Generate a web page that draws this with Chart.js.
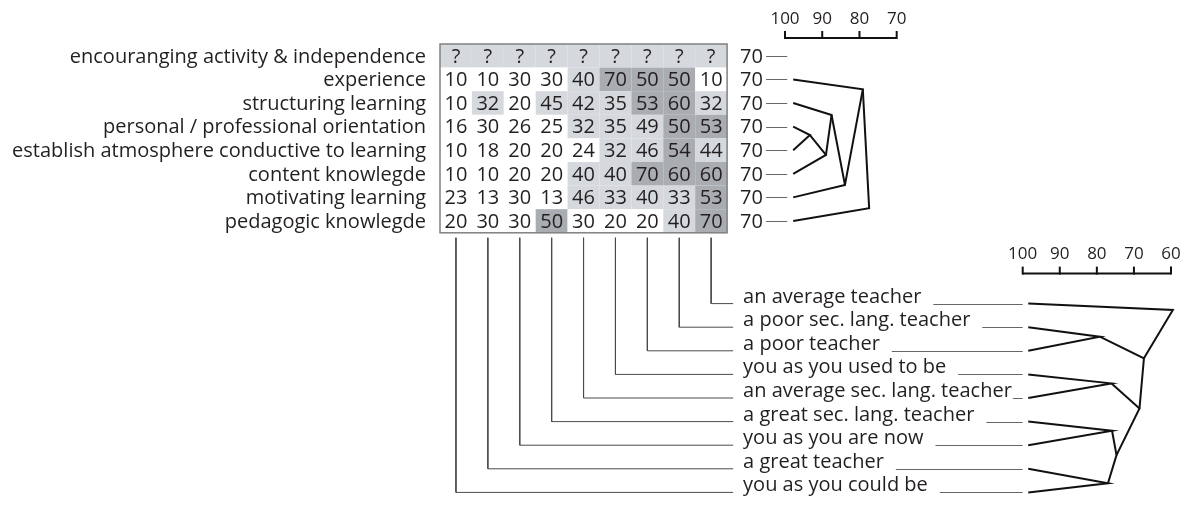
<!DOCTYPE html>
<html><head><meta charset="utf-8">
<script src="https://cdn.jsdelivr.net/npm/chart.js@4/dist/chart.umd.min.js"></script>
<style>html,body{margin:0;padding:0;background:#fff;}canvas{display:block;}</style>
</head><body>
<canvas id="c" width="1193" height="508"></canvas>
<script>
// ---------- data ----------
const constructs = ['encouranging activity & independence','experience','structuring learning','personal / professional orientation','establish atmosphere conductive to learning','content knowlegde','motivating learning','pedagogic knowlegde'];
// elements by grid column (left to right)
const elements = ['you as you could be','a great teacher','you as you are now','a great sec. lang. teacher','an average sec. lang. teacher','you as you used to be','a poor teacher','a poor sec. lang. teacher','an average teacher'];
const ratings = [
  ['?','?','?','?','?','?','?','?','?'],
  [10,10,30,30,40,70,50,50,10],
  [10,32,20,45,42,35,53,60,32],
  [16,30,26,25,32,35,49,50,53],
  [10,18,20,20,24,32,46,54,44],
  [10,10,20,20,40,40,70,60,60],
  [23,13,30,13,46,33,40,33,53],
  [20,30,30,50,30,20,20,40,70]
];
const rowScores = [70,70,70,70,70,70,70,70];
const constructTicks = [100,90,80,70];
const elementTicks = [100,90,80,70,60];
// element order of the lower dendrogram (top to bottom), as grid columns
const elementOrder = [8,7,6,5,4,3,2,1,0];
// construct clustering: [node, similarity, row position, child, child]  (r# = construct row)
const constructLinks = [
  ['A',93.3,3.86,'r3','r4'],
  ['B',89.0,4.70,'A','r5'],
  ['C',87.5,3.01,'r2','B'],
  ['D',83.9,5.97,'C','r6'],
  ['E',79.1,1.92,'r1','D'],
  ['F',77.4,6.96,'E','r7']
];
// element clustering: [node, similarity, position in element list, child, child]  (k# = element list row)
const elementLinks = [
  ['P',79.2,1.40,'k1','k2'],
  ['R',76.1,3.38,'k3','k4'],
  ['U',75.9,5.39,'k5','k6'],
  ['V',77.0,7.61,'k7','k8'],
  ['T',74.7,6.42,'U','V'],
  ['S',68.5,4.44,'R','T'],
  ['Q',67.3,2.32,'P','S'],
  ['Root',59.5,0.27,'k0','Q']
];
const leafSimC = 97.8, leafSimE = 98.5;

// ---------- layout ----------
const W = 1193, H = 508;
const GRID_LEFT = 440, CELL_W = 31.9, GRID_TOP = 44, ROW_H = 23.6;
const D1_100 = 785, D1_PER = 3.723;
const D2_100 = 1022.7, D2_PER = 3.7075;
const ELEM_ROW0 = 11;           // row-unit position of first element line
const FONT = '"Open Sans", "Noto Sans", sans-serif';
const TXT = '#231f20';
const LIGHT = '#d5d8dd', DARK = '#a9acb1';

function shade(v){ if (v === '?') return LIGHT; if (v >= 50) return DARK; if (v > 30) return LIGHT; return '#ffffff'; }

// ---------- datasets ----------
const datasets = [];
// connectors from grid columns to element labels
elementOrder.forEach((col, k) => {
  datasets.push({
    xAxisID:'x', yAxisID:'y', showLine:true, pointRadius:0, borderWidth:1, borderColor:'#4a4a4a',
    data:[{x:col+0.5, y:8.21},{x:col+0.5, y:ELEM_ROW0+k},{x:9.19, y:ELEM_ROW0+k}]
  });
});
function treeSets(links, leafSim, leafPos, axisId){
  const nodes = {};
  links.forEach(l => nodes[l[0]] = {x:l[1], y:l[2]});
  const pt = id => nodes[id] ? nodes[id] : {x:leafSim, y:leafPos(+id.slice(1))};
  return links.map(l => ({
    xAxisID:axisId, yAxisID:'y', showLine:true, pointRadius:0, borderWidth:2, borderColor:'#111',
    data:[pt(l[3]), {x:l[1], y:l[2]}, pt(l[4])]
  }));
}
datasets.push(...treeSets(constructLinks, leafSimC, r => r + 0.5, 'xd1'));
datasets.push(...treeSets(elementLinks.map(l => [l[0],l[1],l[2]+ELEM_ROW0,l[3],l[4]]), leafSimE, k => ELEM_ROW0 + k, 'xd2'));

// ---------- drawing plugin ----------
const gridPlugin = {
  id:'grid',
  beforeDatasetsDraw(chart){
    const {ctx, scales:{x, y}} = chart;
    ctx.save();
    ratings.forEach((row, r) => row.forEach((v, c) => {
      const x0 = x.getPixelForValue(c), x1 = x.getPixelForValue(c+1);
      const y0 = y.getPixelForValue(r), y1 = y.getPixelForValue(r+1);
      ctx.fillStyle = shade(v);
      ctx.fillRect(x0, y0, x1-x0, y1-y0);
    }));
    ctx.strokeStyle = '#808080'; ctx.lineWidth = 1.5;
    const gx0 = x.getPixelForValue(0), gx1 = x.getPixelForValue(9), gy0 = y.getPixelForValue(0), gy1 = y.getPixelForValue(8);
    ctx.strokeRect(gx0, gy0, gx1-gx0, gy1-gy0);
    ctx.restore();
  },
  afterDatasetsDraw(chart){
    const {ctx, scales:{x, y, xd1, xd2}} = chart;
    ctx.save();
    ctx.fillStyle = TXT;
    // cell values
    ctx.font = '20px ' + FONT; ctx.textAlign = 'center'; ctx.textBaseline = 'middle';
    ratings.forEach((row, r) => row.forEach((v, c) => {
      ctx.fillText(String(v), x.getPixelForValue(c+0.5), y.getPixelForValue(r+0.5)+1);
    }));
    // construct labels
    ctx.textAlign = 'right';
    const gx0 = x.getPixelForValue(0), gx1 = x.getPixelForValue(9);
    constructs.forEach((s, r) => ctx.fillText(s, gx0 - 14, y.getPixelForValue(r+0.5)+1));
    // row scores and dashes
    ctx.textAlign = 'left';
    rowScores.forEach((s, r) => {
      const yy = y.getPixelForValue(r+0.5);
      ctx.fillText(String(s), gx1 + 13, yy+1);
      ctx.strokeStyle = '#666'; ctx.lineWidth = 1;
      ctx.beginPath(); ctx.moveTo(gx1 + 39, Math.round(yy)+0.5); ctx.lineTo(xd1.getPixelForValue(99.4), Math.round(yy)+0.5); ctx.stroke();
    });
    // scale bars
    function scaleBar(sc, ticks, yAxis){
      ctx.strokeStyle = '#111'; ctx.lineWidth = 2;
      const a = sc.getPixelForValue(ticks[0]), b = sc.getPixelForValue(ticks[ticks.length-1]);
      ctx.beginPath(); ctx.moveTo(a, yAxis); ctx.lineTo(b, yAxis); ctx.stroke();
      ctx.font = '17px ' + FONT; ctx.textAlign = 'center'; ctx.textBaseline = 'middle'; ctx.fillStyle = TXT;
      ticks.forEach(t => {
        const px = sc.getPixelForValue(t);
        ctx.beginPath(); ctx.moveTo(px, yAxis+1); ctx.lineTo(px, yAxis-7); ctx.stroke();
        ctx.fillText(String(t), px, yAxis - 19);
      });
    }
    scaleBar(xd1, constructTicks, y.getPixelForValue(0) - 6);
    scaleBar(xd2, elementTicks, y.getPixelForValue(ELEM_ROW0) - 30);
    // element labels and dashes
    ctx.font = '20px ' + FONT; ctx.textAlign = 'left'; ctx.textBaseline = 'alphabetic'; ctx.fillStyle = TXT;
    const lx = gx1 + 16, endX = xd2.getPixelForValue(100);
    elementOrder.forEach((col, k) => {
      const yy = y.getPixelForValue(ELEM_ROW0 + k);
      const s = elements[col];
      ctx.fillText(s, lx, yy - 1);
      const te = lx + ctx.measureText(s).width;
      let sx = te + 12; if (sx > endX - 4) sx = te + 1;
      ctx.strokeStyle = '#666'; ctx.lineWidth = 1;
      ctx.beginPath(); ctx.moveTo(sx, Math.round(yy)+0.5); ctx.lineTo(endX, Math.round(yy)+0.5); ctx.stroke();
    });
    ctx.restore();
  }
};

new Chart(document.getElementById('c'), {
  type:'scatter',
  data:{datasets},
  options:{
    responsive:false, animation:false, events:[],
    layout:{padding:0},
    plugins:{legend:{display:false}, tooltip:{enabled:false}},
    scales:{
      x:{type:'linear', display:false, bounds:'data', min:-GRID_LEFT/CELL_W, max:(W-GRID_LEFT)/CELL_W},
      y:{type:'linear', display:false, bounds:'data', reverse:true, min:-GRID_TOP/ROW_H, max:(H-GRID_TOP)/ROW_H},
      xd1:{type:'linear', axis:'x', display:false, bounds:'data', reverse:true, min:100-(W-D1_100)/D1_PER, max:100+D1_100/D1_PER},
      xd2:{type:'linear', axis:'x', display:false, bounds:'data', reverse:true, min:100-(W-D2_100)/D2_PER, max:100+D2_100/D2_PER}
    }
  },
  plugins:[gridPlugin]
});
</script>
</body></html>
